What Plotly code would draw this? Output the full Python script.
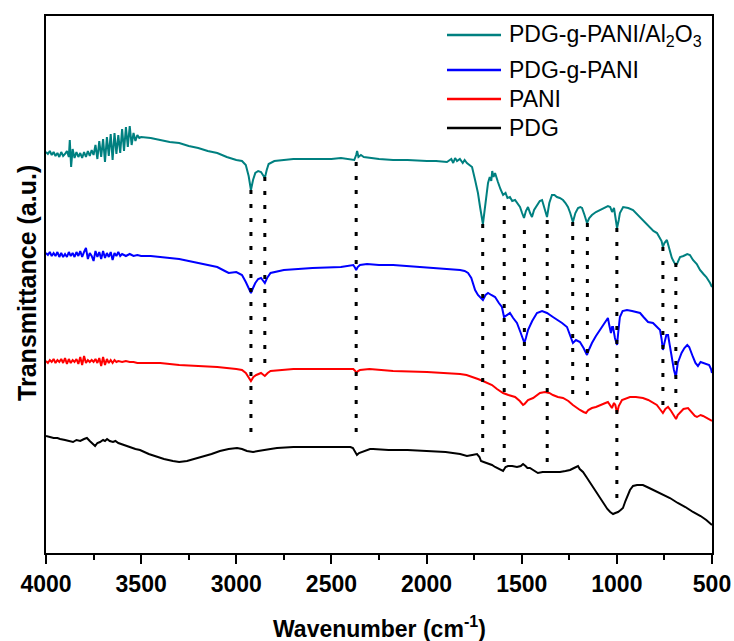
import plotly.graph_objects as go

# ---------------- data (wavenumber cm^-1, transmittance a.u.) ----------------
series_names = ["PDG-g-PANI/Al<sub>2</sub>O<sub>3</sub>", "PDG-g-PANI", "PANI", "PDG"]
series_colors = ["#008080", "#0000FF", "#FF0000", "#000000"]

al_pts = [
    (4000, 401), (3990, 399), (3980, 402), (3970, 398), (3960, 401), (3950, 397), (3940, 400),
    (3930, 396), (3920, 401), (3910, 397), (3900, 399), (3890, 402), (3880, 396), (3875, 413),
    (3868, 386), (3860, 404), (3850, 395), (3840, 401), (3830, 396), (3820, 400), (3810, 395),
    (3800, 401), (3790, 396), (3780, 402), (3770, 397), (3760, 403), (3750, 398), (3740, 408),
    (3730, 394), (3720, 412), (3710, 396), (3700, 414), (3690, 391), (3680, 416), (3670, 397),
    (3660, 419), (3650, 393), (3640, 420), (3630, 399), (3620, 418), (3610, 400), (3600, 424),
    (3590, 402), (3580, 426), (3570, 406), (3560, 427), (3550, 408), (3540, 420), (3530, 412),
    (3520, 418), (3510, 415), (3500, 416), (3450, 415), (3400, 413), (3350, 411), (3300, 410),
    (3250, 407), (3200, 405), (3150, 402), (3100, 400), (3050, 396), (3000, 393), (2970, 392),
    (2950, 388), (2935, 377), (2923, 363), (2912, 373), (2900, 380), (2885, 382), (2870, 381),
    (2858, 378), (2850, 375), (2840, 383), (2830, 389), (2800, 392), (2750, 393), (2700, 394),
    (2600, 394), (2500, 394), (2450, 395), (2400, 394), (2380, 393), (2370, 398), (2365, 402),
    (2358, 396), (2345, 398), (2330, 396), (2300, 395), (2250, 394), (2176, 393), (2100, 393),
    (1998, 392), (1950, 392), (1893, 391), (1870, 394), (1860, 390), (1850, 395), (1840, 392),
    (1825, 394), (1810, 390), (1800, 393), (1788, 390), (1775, 388), (1761, 386), (1745, 373),
    (1730, 360), (1718, 345), (1710, 335), (1704, 329), (1698, 338), (1688, 353), (1677, 370),
    (1668, 376), (1660, 372), (1655, 382), (1648, 376), (1640, 380), (1632, 374), (1625, 371),
    (1612, 364), (1598, 358), (1585, 360), (1575, 355), (1562, 356), (1550, 352), (1535, 353),
    (1520, 349), (1509, 346), (1498, 340), (1488, 335), (1478, 342), (1467, 346), (1456, 340),
    (1446, 336), (1435, 343), (1420, 348), (1405, 352), (1393, 353), (1380, 345), (1367, 336),
    (1355, 350), (1341, 358), (1328, 358), (1315, 356), (1300, 355), (1283, 353), (1270, 350),
    (1257, 346), (1245, 340), (1231, 331), (1218, 340), (1204, 345), (1192, 346), (1183, 345),
    (1170, 338), (1157, 330), (1145, 335), (1131, 338), (1110, 341), (1089, 343), (1068, 345),
    (1047, 347), (1035, 346), (1025, 341), (1015, 345), (1005, 332), (999, 325), (990, 333),
    (984, 340), (967, 346), (940, 345), (915, 343), (890, 338), (863, 333), (845, 329),
    (826, 325), (808, 322), (789, 320), (773, 315), (765, 312), (758, 306), (750, 310),
    (737, 313), (725, 305), (711, 295), (700, 291), (690, 288), (684, 289), (675, 294),
    (668, 296), (650, 297), (630, 299), (616, 298), (600, 293), (580, 289), (563, 283),
    (545, 279), (530, 276), (510, 270), (500, 266),
]

pg_pts = [
    (4000, 300), (3990, 298), (3980, 301), (3970, 297), (3960, 300), (3950, 297), (3940, 301),
    (3930, 296), (3920, 300), (3910, 296), (3900, 299), (3890, 296), (3880, 301), (3870, 297),
    (3860, 300), (3850, 296), (3840, 301), (3830, 297), (3820, 302), (3810, 296), (3800, 301),
    (3790, 305), (3780, 294), (3770, 300), (3760, 297), (3750, 292), (3740, 302), (3730, 296),
    (3720, 301), (3710, 294), (3700, 302), (3690, 295), (3680, 300), (3670, 296), (3660, 301),
    (3650, 293), (3640, 300), (3630, 297), (3620, 301), (3610, 297), (3600, 299), (3580, 297),
    (3560, 299), (3540, 297), (3520, 298), (3500, 297), (3450, 297), (3400, 296), (3350, 295),
    (3300, 294), (3250, 292), (3200, 290), (3150, 288), (3100, 286), (3060, 282), (3040, 280),
    (3000, 281), (2970, 278), (2950, 271), (2935, 265), (2923, 260), (2912, 265), (2900, 270),
    (2885, 274), (2870, 275), (2858, 272), (2850, 270), (2838, 275), (2820, 280), (2750, 283),
    (2600, 285), (2450, 286), (2385, 288), (2375, 285), (2370, 283), (2362, 286), (2350, 288),
    (2313, 289), (2250, 288), (2176, 288), (2100, 287), (1998, 286), (1900, 284), (1824, 283),
    (1800, 282), (1782, 280), (1765, 275), (1745, 263), (1730, 258), (1719, 256), (1704, 253),
    (1690, 258), (1677, 260), (1660, 258), (1640, 256), (1620, 250), (1604, 246), (1593, 236),
    (1580, 238), (1562, 240), (1545, 235), (1525, 230), (1505, 220), (1493, 213), (1486, 210),
    (1478, 215), (1467, 223), (1445, 232), (1420, 240), (1393, 242), (1367, 240), (1336, 236),
    (1310, 233), (1288, 230), (1262, 226), (1245, 218), (1231, 210), (1215, 213), (1194, 211),
    (1175, 205), (1157, 198), (1145, 204), (1131, 210), (1110, 217), (1089, 223), (1075, 226),
    (1062, 230), (1047, 235), (1040, 228), (1031, 220), (1025, 226), (1020, 226), (1010, 215),
    (999, 208), (992, 222), (984, 236), (970, 242), (947, 243), (920, 242), (900, 241),
    (878, 240), (860, 236), (836, 231), (810, 230), (790, 226), (773, 223), (765, 214),
    (758, 203), (750, 210), (740, 218), (731, 218), (722, 208), (712, 193), (700, 183),
    (690, 176), (680, 190), (672, 194), (660, 200), (645, 205), (630, 208), (620, 206),
    (610, 200), (600, 196), (587, 190), (574, 187), (560, 191), (545, 190), (530, 189),
    (515, 188), (505, 184), (500, 180),
]

pani_pts = [
    (4000, 192), (3990, 190), (3980, 193), (3970, 191), (3960, 194), (3950, 190), (3940, 193),
    (3930, 191), (3920, 194), (3910, 190), (3900, 195), (3890, 189), (3880, 194), (3870, 190),
    (3860, 193), (3850, 191), (3840, 194), (3830, 189), (3820, 196), (3810, 188), (3800, 197),
    (3790, 190), (3780, 193), (3770, 191), (3760, 193), (3750, 191), (3740, 194), (3730, 190),
    (3720, 195), (3710, 187), (3700, 196), (3690, 188), (3680, 194), (3670, 190), (3660, 193),
    (3650, 190), (3640, 193), (3630, 191), (3620, 192), (3600, 191), (3580, 192), (3560, 191),
    (3540, 191), (3520, 190), (3500, 190), (3400, 190), (3300, 188), (3200, 187), (3100, 186),
    (3000, 184), (2970, 183), (2950, 180), (2935, 176), (2923, 172), (2910, 176), (2895, 178),
    (2870, 180), (2858, 178), (2850, 177), (2835, 180), (2820, 182), (2700, 184), (2500, 184),
    (2385, 184), (2375, 182), (2368, 180), (2360, 182), (2350, 183), (2300, 184), (2176, 182),
    (1998, 181), (1900, 180), (1824, 179), (1790, 178), (1756, 176), (1730, 174), (1704, 172),
    (1680, 170), (1656, 168), (1630, 164), (1598, 160), (1570, 158), (1535, 156), (1510, 152),
    (1493, 148), (1485, 149), (1467, 153), (1440, 155), (1420, 158), (1404, 160), (1378, 161),
    (1355, 160), (1336, 158), (1310, 156), (1283, 155), (1255, 152), (1231, 148), (1210, 145),
    (1194, 143), (1175, 141), (1162, 140), (1150, 143), (1131, 145), (1110, 146), (1089, 148),
    (1060, 150), (1047, 151), (1035, 147), (1026, 145), (1015, 150), (1008, 148), (999, 140),
    (990, 147), (973, 153), (950, 155), (931, 156), (900, 156), (863, 155), (835, 153),
    (810, 150), (790, 148), (770, 143), (758, 140), (745, 144), (731, 146), (715, 142),
    (700, 137), (689, 134), (680, 138), (668, 140), (650, 144), (626, 145), (605, 140),
    (590, 137), (579, 136), (560, 138), (547, 137), (530, 135), (515, 134), (500, 132),
]

pdg_pts = [
    (4000, 117), (3980, 116), (3960, 115), (3940, 115), (3926, 114), (3900, 113), (3880, 112),
    (3858, 111), (3840, 113), (3820, 112), (3800, 114), (3785, 115), (3770, 112), (3755, 109),
    (3742, 107), (3730, 110), (3716, 111), (3700, 113), (3690, 112), (3679, 114), (3665, 112),
    (3648, 111), (3635, 112), (3620, 110), (3595, 108), (3560, 106), (3530, 104), (3506, 103),
    (3460, 99), (3417, 96), (3380, 94), (3333, 92), (3300, 91), (3259, 92), (3220, 94),
    (3175, 96), (3130, 99), (3086, 102), (3040, 104), (2996, 105), (2970, 104), (2944, 102),
    (2925, 101), (2912, 101), (2885, 102), (2860, 103), (2820, 104), (2786, 105), (2700, 106),
    (2576, 106), (2480, 106), (2400, 106), (2387, 105), (2375, 100), (2366, 98), (2355, 100),
    (2340, 101), (2320, 103), (2297, 104), (2281, 104), (2200, 103), (2100, 103), (1998, 102),
    (1900, 101), (1824, 99), (1788, 97), (1760, 98), (1735, 99), (1722, 96), (1714, 92),
    (1700, 91), (1685, 90), (1672, 89), (1656, 88), (1640, 86), (1620, 84), (1605, 82),
    (1598, 82), (1585, 86), (1572, 87), (1550, 87), (1525, 86), (1505, 87), (1493, 89),
    (1480, 87), (1470, 85), (1457, 85), (1440, 83), (1415, 80), (1390, 81), (1367, 81),
    (1330, 81), (1299, 81), (1270, 82), (1246, 83), (1225, 85), (1210, 86), (1204, 87),
    (1195, 84), (1178, 81), (1160, 76), (1140, 70), (1125, 66), (1100, 58), (1073, 50),
    (1050, 44), (1035, 41), (1020, 39), (1008, 40), (994, 41), (980, 43), (968, 45),
    (955, 52), (940, 60), (931, 63), (915, 67), (894, 68), (870, 68), (863, 68), (830, 65),
    (789, 61), (760, 59), (721, 55), (680, 50), (640, 46), (600, 41), (560, 37), (530, 33),
    (510, 30), (500, 28),
]

# band markers (dotted guide lines): wavenumber, top and bottom in a.u.
band_wn = [2923, 2850, 2370, 1705, 1592, 1486, 1366, 1232, 1155, 1000, 758, 690]
band_top = [363, 376, 391, 329, 347, 323, 333, 331, 330, 325, 306, 290]
band_bot = [115, 188, 116, 98, 90, 161, 83, 156, 155, 48, 145, 141]

x_ticks = [4000, 3500, 3000, 2500, 2000, 1500, 1000, 500]

# ---------------- figure ----------------
FONT = "Liberation Sans, Arial, sans-serif"
fig = go.Figure()

for pts, name, color in zip([al_pts, pg_pts, pani_pts, pdg_pts], series_names, series_colors):
    xs = [p[0] for p in pts]
    ys = [p[1] for p in pts]
    fig.add_trace(go.Scatter(x=xs, y=ys, mode="lines", name=name,
                             line=dict(color=color, width=2), showlegend=False))

for w, t, b in zip(band_wn, band_top, band_bot):
    fig.add_shape(type="line", xref="x", yref="y", x0=w, x1=w, y0=t, y1=b,
                  line=dict(color="black", width=3, dash="4px,10px"), layer="above")

# manual legend (top right)
leg_y = [0.9646, 0.8994, 0.8454, 0.7914]
for name, color, yy in zip(series_names, series_colors, leg_y):
    fig.add_shape(type="line", xref="paper", yref="paper", x0=0.6021, x1=0.6832,
                  y0=yy, y1=yy, line=dict(color=color, width=2.5))
    fig.add_annotation(xref="paper", yref="paper", x=0.6922, y=yy, text=name,
                       showarrow=False, xanchor="left", yanchor="middle",
                       font=dict(family=FONT, size=23, color="black"))

# axis titles
fig.add_annotation(xref="paper", yref="paper", x=0.5, y=-0.138,
                   text="<b>Wavenumber (cm<sup>-1</sup>)</b>", showarrow=False,
                   xanchor="center", yanchor="middle",
                   font=dict(family=FONT, size=23, color="black"))
fig.add_annotation(xref="paper", yref="paper", x=-0.0285, y=0.503,
                   text="<b>Transmittance (a.u.)</b>", showarrow=False, textangle=-90,
                   xanchor="center", yanchor="middle",
                   font=dict(family=FONT, size=25, color="black"))

fig.update_layout(
    width=734, height=641,
    margin=dict(l=46, r=22, t=16, b=88, autoexpand=False),
    paper_bgcolor="white", plot_bgcolor="white",
    font=dict(family=FONT, color="black"),
    xaxis=dict(range=[4000, 500], tickvals=x_ticks,
               ticktext=["<b>%d</b>" % v for v in x_ticks],
               automargin=False,
               showline=True, linecolor="black", linewidth=2, mirror=True,
               ticks="outside", ticklen=9, tickwidth=2, tickcolor="black",
               minor=dict(ticks="outside", ticklen=5, tickwidth=2, tickcolor="black", dtick=250,
                          tick0=500),
               tickfont=dict(family=FONT, size=23, color="black"),
               showgrid=False, zeroline=False),
    yaxis=dict(range=[0, 537], showticklabels=False, ticks="", automargin=False,
               showline=True, linecolor="black", linewidth=2, mirror=True,
               showgrid=False, zeroline=False),
)

fig.write_html("out.html")
